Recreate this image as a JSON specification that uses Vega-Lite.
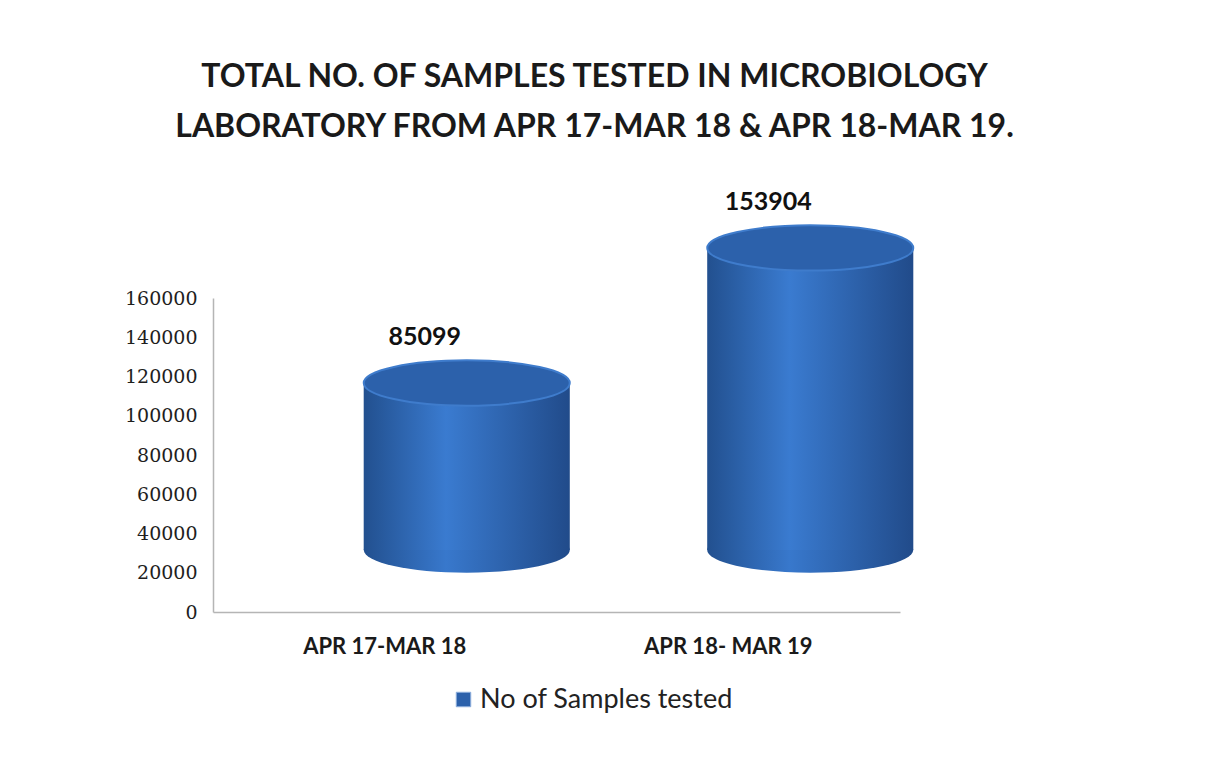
{
  "$schema": "https://vega.github.io/schema/vega-lite/v6.json",
  "autosize": "none",
  "width": 687,
  "height": 314,
  "padding": {"left": 213, "top": 298, "right": 320, "bottom": 157},
  "background": "white",
  "config": {"view": {"stroke": null}, "font": "Lato"},
  "title": {
    "text": ["TOTAL NO. OF SAMPLES TESTED IN MICROBIOLOGY", "LABORATORY FROM APR 17-MAR 18 & APR 18-MAR 19."],
    "font": "Lato",
    "fontSize": 32,
    "fontWeight": "bold",
    "color": "#1a1a1a",
    "anchor": "middle",
    "lineHeight": 50,
    "offset": 46,
    "dx": 38
  },
  "data": {
    "values": [
      {"period": "APR 17-MAR 18", "samples": 85099, "series": "No of Samples tested"},
      {"period": "APR 18- MAR 19", "samples": 153904, "series": "No of Samples tested"}
    ]
  },
  "encoding": {
    "x": {
      "field": "period",
      "type": "nominal",
      "sort": null,
      "scale": {"paddingInner": 0.4, "paddingOuter": 0.2},
      "axis": {
        "title": null,
        "labelAngle": 0,
        "labelFont": "Lato",
        "labelFontSize": 22,
        "labelFontWeight": "bold",
        "labelColor": "#1a1a1a",
        "labelPadding": 24,
        "ticks": false,
        "domainColor": "#b5b5b5",
        "domainWidth": 1.5
      }
    },
    "y": {
      "field": "samples",
      "type": "quantitative",
      "scale": {"domain": [0, 160000]},
      "axis": {
        "title": null,
        "values": [0, 20000, 40000, 60000, 80000, 100000, 120000, 140000, 160000],
        "format": "d",
        "grid": false,
        "ticks": false,
        "labelFont": "DejaVu Serif",
        "labelFontSize": 19,
        "labelColor": "#1e1e1e",
        "labelPadding": 16,
        "domainColor": "#b5b5b5",
        "domainWidth": 1.5
      }
    }
  },
  "layer": [
    {
      "mark": {
        "type": "point",
        "filled": true,
        "size": 42436,
        "opacity": 1,
        "shape": "M -1 0 A 1 0.22 0 1 0 1 0 A 1 0.22 0 1 0 -1 0 Z",
        "xOffset": 82,
        "yOffset": -62,
        "fill": {
          "gradient": "linear", "x1": 0, "y1": 0, "x2": 1, "y2": 0,
          "stops": [
            {"offset": 0, "color": "#22508f"},
            {"offset": 0.4, "color": "#3878cc"},
            {"offset": 1, "color": "#214b8a"}
          ]
        }
      },
      "encoding": {"y": {"datum": 0}}
    },
    {
      "mark": {
        "type": "bar",
        "xOffset": 82,
        "yOffset": -62,
        "fill": {
          "gradient": "linear", "x1": 0, "y1": 0, "x2": 1, "y2": 0,
          "stops": [
            {"offset": 0, "color": "#22508f"},
            {"offset": 0.4, "color": "#3a7bd0"},
            {"offset": 1, "color": "#214b8a"}
          ]
        }
      }
    },
    {
      "mark": {
        "type": "point",
        "filled": true,
        "size": 42436,
        "opacity": 1,
        "shape": "M -1 0 A 1 0.22 0 1 0 1 0 A 1 0.22 0 1 0 -1 0 Z",
        "xOffset": 82,
        "yOffset": -62,
        "stroke": "#3f7ccc",
        "strokeWidth": 2
      },
      "encoding": {
        "color": {
          "field": "series",
          "type": "nominal",
          "scale": {"range": ["#2c61ab"]},
          "legend": {
            "title": null,
            "orient": "none",
            "legendX": 237,
            "legendY": 388,
            "symbolType": "square",
            "symbolSize": 210,
            "symbolStrokeColor": "#8fb0dd",
            "symbolStrokeWidth": 1,
            "labelOffset": 3,
            "labelFont": "Lato",
            "labelFontSize": 27,
            "labelColor": "#222222",
            "labelLimit": 400
          }
        }
      }
    },
    {
      "mark": {
        "type": "text",
        "font": "Lato",
        "fontSize": 25,
        "fontWeight": "bold",
        "color": "#111111",
        "baseline": "middle",
        "xOffset": 40,
        "yOffset": -108
      },
      "encoding": {"text": {"field": "samples", "type": "quantitative", "format": "d"}}
    }
  ]
}
